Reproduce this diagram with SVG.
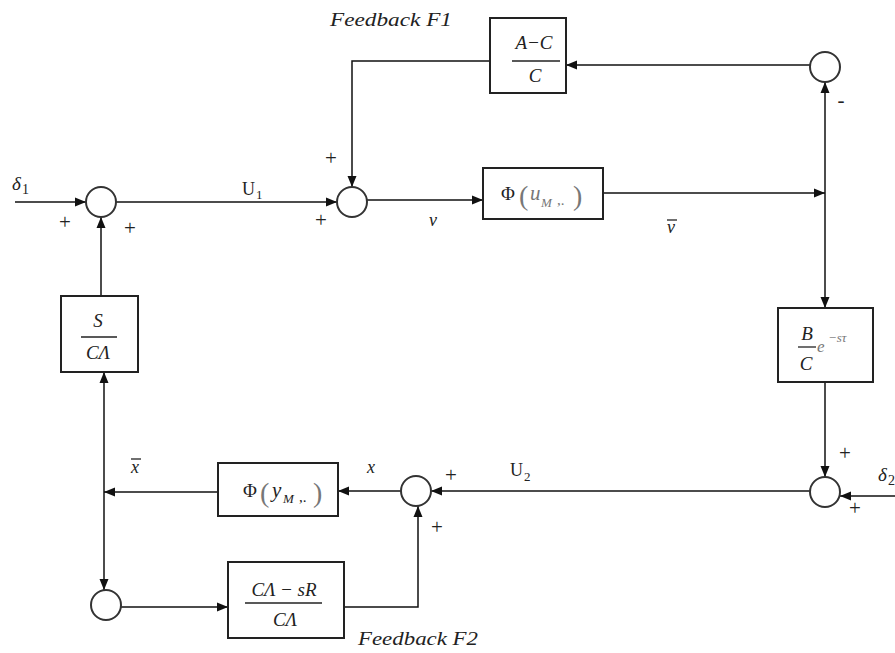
<svg xmlns="http://www.w3.org/2000/svg" width="895" height="653" viewBox="0 0 895 653" font-family="'Liberation Serif', 'Times New Roman', Times, serif">
<defs>
<marker id="ah" markerUnits="userSpaceOnUse" markerWidth="12" markerHeight="10" refX="11" refY="5" orient="auto">
<path d="M0,0.5 L11,5 L0,9.5 z" fill="#111"/>
</marker>
<style>
.ln{stroke:#111;stroke-width:1.5;fill:none}
.bx{stroke:#222;stroke-width:2;fill:#fff}
.sj{stroke:#333;stroke-width:2;fill:#fff}
.t{font-family:'Liberation Serif','Times New Roman',Times,serif;fill:#222}
.i{font-style:italic}
.pm{font-family:'Liberation Serif','Times New Roman',Times,serif;font-size:21px;fill:#222;text-anchor:middle}
.fr{stroke:#222;stroke-width:1.3}
.g{fill:#777}
</style>
</defs>
<rect width="895" height="653" fill="#fff"/>

<g id="connectors">
<line class="ln" x1="15" y1="202" x2="86" y2="202" marker-end="url(#ah)"/>
<line class="ln" x1="116" y1="202" x2="337" y2="202" marker-end="url(#ah)"/>
<line class="ln" x1="367" y1="200" x2="483" y2="200" marker-end="url(#ah)"/>
<line class="ln" x1="603" y1="193" x2="825" y2="193" marker-end="url(#ah)"/>
<line class="ln" x1="825" y1="193" x2="825" y2="82" marker-end="url(#ah)"/>
<line class="ln" x1="825" y1="193" x2="825" y2="308" marker-end="url(#ah)"/>
<line class="ln" x1="810" y1="65" x2="566" y2="65" marker-end="url(#ah)"/>
<polyline class="ln" points="490,61 352,61 352,187" marker-end="url(#ah)"/>
<line class="ln" x1="825" y1="382" x2="825" y2="477" marker-end="url(#ah)"/>
<line class="ln" x1="895" y1="496" x2="840" y2="496" marker-end="url(#ah)"/>
<line class="ln" x1="810" y1="491" x2="431" y2="491" marker-end="url(#ah)"/>
<line class="ln" x1="401" y1="491" x2="338" y2="491" marker-end="url(#ah)"/>
<line class="ln" x1="218" y1="492" x2="104" y2="492" marker-end="url(#ah)"/>
<line class="ln" x1="104" y1="492" x2="104" y2="372" marker-end="url(#ah)"/>
<line class="ln" x1="104" y1="492" x2="104" y2="590" marker-end="url(#ah)"/>
<line class="ln" x1="101" y1="296" x2="101" y2="217" marker-end="url(#ah)"/>
<line class="ln" x1="121" y1="607" x2="228" y2="607" marker-end="url(#ah)"/>
<polyline class="ln" points="344,607 418,607 418,506" marker-end="url(#ah)"/>
</g>

<g id="sum1"><circle class="sj" cx="101" cy="202" r="15"/></g>
<g id="sum2"><circle class="sj" cx="352" cy="202" r="15"/></g>
<g id="sum3"><circle class="sj" cx="825" cy="67" r="15"/></g>
<g id="sum4"><circle class="sj" cx="825" cy="492" r="15"/></g>
<g id="sum5"><circle class="sj" cx="416" cy="491" r="15"/></g>
<g id="sum6"><circle class="sj" cx="106" cy="605" r="15"/></g>

<g id="boxF1">
<rect class="bx" x="490" y="18" width="76" height="75"/>
<text class="t i" x="534" y="49" font-size="19" text-anchor="middle">A−C</text>
<line class="fr" x1="512" y1="61" x2="560" y2="61"/>
<text class="t i" x="535" y="82" font-size="19" text-anchor="middle">C</text>
</g>

<g id="boxPhiU">
<rect class="bx" x="483" y="168" width="120" height="51"/>
<text class="t" y="200" font-size="19"><tspan x="501">Φ</tspan><tspan x="519" y="205" font-size="28" class="g">(</tspan><tspan x="530" y="200" font-style="italic" class="g" font-size="21">u</tspan><tspan x="541" y="207" font-style="italic" class="g" font-size="13">M</tspan><tspan x="557" y="205" class="g" font-size="15">,.</tspan><tspan x="573" y="205" font-size="28" class="g">)</tspan></text>
</g>

<g id="boxB">
<rect class="bx" x="778" y="308" width="95" height="74"/>
<text class="t i" x="807" y="340" font-size="19" text-anchor="middle">B</text>
<line class="fr" x1="798" y1="347" x2="816" y2="347"/>
<text class="t i" x="806" y="370" font-size="19" text-anchor="middle">C</text>
<text class="t i g" x="817" y="352" font-size="17">e</text>
<text class="t i g" x="828" y="342" font-size="13">−sτ</text>
</g>

<g id="boxS">
<rect class="bx" x="61" y="296" width="77" height="76"/>
<text class="t i" x="98" y="327" font-size="19" text-anchor="middle">S</text>
<line class="fr" x1="81" y1="337" x2="117" y2="337"/>
<text class="t i" x="98" y="359" font-size="19" text-anchor="middle">CΛ</text>
</g>

<g id="boxPhiY">
<rect class="bx" x="218" y="463" width="120" height="53"/>
<text class="t" y="497" font-size="19"><tspan x="243">Φ</tspan><tspan x="260" y="502" font-size="28" class="g">(</tspan><tspan x="272" y="497" font-style="italic" font-size="21">y</tspan><tspan x="283" y="503" font-style="italic" font-size="13">M</tspan><tspan x="299" y="502" font-size="15">,.</tspan><tspan x="313" y="502" font-size="28" class="g">)</tspan></text>
</g>

<g id="boxF2">
<rect class="bx" x="228" y="562" width="116" height="76"/>
<text class="t i" x="284" y="596" font-size="19" text-anchor="middle">CΛ − sR</text>
<line class="fr" x1="245" y1="603" x2="322" y2="603"/>
<text class="t i" x="285" y="626" font-size="19" text-anchor="middle">CΛ</text>
</g>

<g id="labels">
<text class="t i" x="330" y="26" font-size="18" textLength="122" lengthAdjust="spacingAndGlyphs">Feedback F1</text>
<text class="t i" x="358" y="645" font-size="18" textLength="120" lengthAdjust="spacingAndGlyphs">Feedback F2</text>
<text class="t" y="190" font-size="19"><tspan x="12" font-style="italic">δ</tspan><tspan x="22" y="194" font-size="14">1</tspan></text>
<text class="t" y="195" font-size="18"><tspan x="242">U</tspan><tspan x="256" y="199" font-size="13">1</tspan></text>
<text class="t" y="476" font-size="18"><tspan x="510">U</tspan><tspan x="524" y="481" font-size="13">2</tspan></text>
<text class="t" y="481" font-size="19"><tspan x="878" font-style="italic">δ</tspan><tspan x="888" y="485" font-size="14">2</tspan></text>
<text class="t i" x="429" y="226" font-size="18">v</text>
<text class="t i" x="667" y="233" font-size="18">v</text>
<line class="fr" x1="667" y1="220" x2="677" y2="220"/>
<text class="t i" x="131" y="473" font-size="18">x</text>
<line class="fr" x1="131" y1="459" x2="141" y2="459"/>
<text class="t i" x="367" y="473" font-size="18">x</text>
<text class="pm" x="65" y="229">+</text>
<text class="pm" x="130" y="235">+</text>
<text class="pm" x="331" y="165">+</text>
<text class="pm" x="321" y="227">+</text>
<text class="pm" x="841" y="107">-</text>
<text class="pm" x="845" y="460">+</text>
<text class="pm" x="855" y="515">+</text>
<text class="pm" x="451" y="482">+</text>
<text class="pm" x="437" y="534">+</text>
</g>
</svg>
